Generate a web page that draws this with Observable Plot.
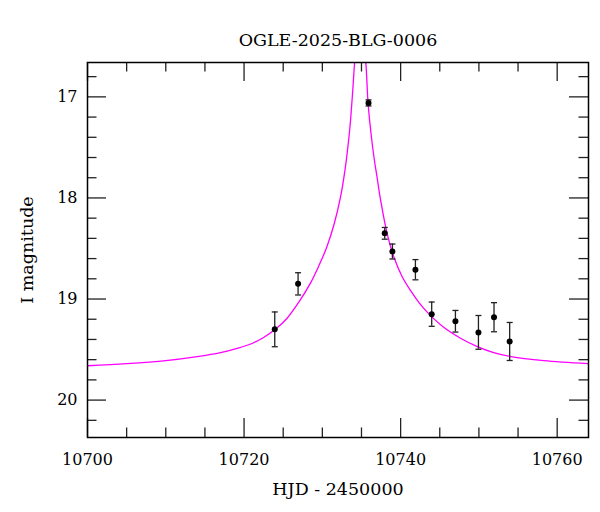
<!DOCTYPE html>
<html>
<head>
<meta charset="utf-8">
<script src="https://cdn.jsdelivr.net/npm/d3@7"></script>
<script src="https://cdn.jsdelivr.net/npm/@observablehq/plot@0.6"></script>
<style>
  html, body { margin: 0; padding: 0; background: #fff; }
</style>
</head>
<body>
<div id="chart"></div>
<script>
const title = "OGLE-2025-BLG-0006";
const xLabel = "HJD - 2450000";
const yLabel = "I magnitude";

// Observations
const obsT   = [10723.92, 10726.9, 10735.9, 10737.97, 10738.95, 10741.89, 10743.97, 10747.0, 10749.94, 10751.93, 10753.93];
const obsMag = [19.30, 18.85, 17.06, 18.35, 18.53, 18.71, 19.15, 19.22, 19.33, 19.18, 19.42];
const obsErr = [0.172, 0.11, 0.03, 0.058, 0.074, 0.10, 0.12, 0.107, 0.167, 0.144, 0.188];

// Model curve
const modelT   = [10700, 10705, 10710, 10714, 10717, 10719, 10721, 10722.5, 10724, 10725.5, 10727, 10728.5, 10729.5, 10730.5, 10731.5, 10732.3, 10732.9, 10733.5, 10733.9, 10734.14, 10734.85,
                  10735.54, 10735.84, 10736.2, 10736.6, 10737.0, 10737.46, 10738.3, 10739.16, 10740.2, 10741.3, 10742.3, 10743.4, 10745.5, 10747.7, 10749.8, 10751.9, 10754.1, 10758.3, 10764];
const modelMag = [19.66, 19.64, 19.61, 19.57, 19.53, 19.49, 19.44, 19.38, 19.30, 19.19, 19.03, 18.84, 18.68, 18.50, 18.26, 18.00, 17.72, 17.32, 16.92, 16.65, 16.2,
                  16.65, 17.06, 17.35, 17.60, 17.80, 18.03, 18.36, 18.59, 18.78, 18.92, 19.03, 19.13, 19.28, 19.39, 19.47, 19.53, 19.57, 19.61, 19.64];

// Ticks
const xMajor = [10700, 10720, 10740, 10760];
const xMinor = [10705, 10710, 10715, 10725, 10730, 10735, 10745, 10750, 10755];
const yMajor = [17, 18, 19, 20];
const yMinor = [16.8, 17.2, 17.4, 17.6, 17.8, 18.2, 18.4, 18.6, 18.8, 19.2, 19.4, 19.6, 19.8, 20.2];

const xDomain = [10700, 10764];
const yDomain = [16.66, 20.37];

const obs = obsT.map((t, i) => ({t, mag: obsMag[i], lo: obsMag[i] - obsErr[i], hi: obsMag[i] + obsErr[i]}));
const model = modelT.map((t, i) => ({t, mag: modelMag[i]}));

const W = 600, H = 512, mL = 87, mR = 12, mT = 62, mB = 75;
const fw = W - mL - mR, fh = H - mT - mB;
const major = 19, minor = 9.5;

const capSymbol = {
  draw(context, size) {
    const r = Math.sqrt(size / Math.PI);
    context.moveTo(-r, 0);
    context.lineTo(r, 0);
  }
};

const tickStyle = {stroke: "#222", strokeWidth: 1.3};

const chart = Plot.plot({
  width: W,
  height: H,
  marginLeft: mL,
  marginRight: mR,
  marginTop: mT,
  marginBottom: mB,
  style: {fontFamily: "'DejaVu Serif', serif", fontSize: "16px", color: "#000", background: "#fff"},
  x: {domain: xDomain},
  y: {domain: yDomain, reverse: true},
  marks: [
    // inward ticks: bottom / top
    Plot.ruleX(xMajor, {x: d => d, insetTop: fh - major, ...tickStyle}),
    Plot.ruleX(xMinor, {x: d => d, insetTop: fh - minor, ...tickStyle}),
    Plot.ruleX(xMajor, {x: d => d, insetBottom: fh - major, ...tickStyle}),
    Plot.ruleX(xMinor, {x: d => d, insetBottom: fh - minor, ...tickStyle}),
    // inward ticks: left / right
    Plot.ruleY(yMajor, {y: d => d, insetRight: fw - major, ...tickStyle}),
    Plot.ruleY(yMinor, {y: d => d, insetRight: fw - minor, ...tickStyle}),
    Plot.ruleY(yMajor, {y: d => d, insetLeft: fw - major, ...tickStyle}),
    Plot.ruleY(yMinor, {y: d => d, insetLeft: fw - minor, ...tickStyle}),
    Plot.axisX({ticks: xMajor, tickSize: 0, tickPadding: 16, tickFormat: d => String(d), fontSize: 16, label: null}),
    Plot.axisY({ticks: yMajor, tickSize: 0, tickPadding: 10, tickFormat: d => String(d), fontSize: 16, label: null}),
    Plot.axisX({ticks: [], label: xLabel, labelAnchor: "center", labelOffset: 57, labelArrow: "none", fontSize: 17.5, tickSize: 0}),
    Plot.axisY({ticks: [], label: yLabel, labelAnchor: "center", labelOffset: 67, labelArrow: "none", fontSize: 17.5, tickSize: 0}),
    Plot.line(model, {x: "t", y: "mag", stroke: "#ff00ff", strokeWidth: 1.3, curve: "catmull-rom", clip: true}),
    Plot.ruleX(obs, {x: "t", y1: "lo", y2: "hi", stroke: "#222", strokeWidth: 1.3}),
    Plot.dot(obs, {x: "t", y: "lo", symbol: capSymbol, r: 3, stroke: "#222", strokeWidth: 1.3, fill: "none"}),
    Plot.dot(obs, {x: "t", y: "hi", symbol: capSymbol, r: 3, stroke: "#222", strokeWidth: 1.3, fill: "none"}),
    Plot.dot(obs, {x: "t", y: "mag", r: 3, fill: "#000", stroke: "none"}),
    Plot.frame({stroke: "#000", strokeWidth: 1.5}),
    Plot.text([title], {frameAnchor: "top", dy: -29, fontSize: 17.5, fill: "#000"})
  ]
});

document.getElementById("chart").appendChild(chart);
</script>
</body>
</html>
